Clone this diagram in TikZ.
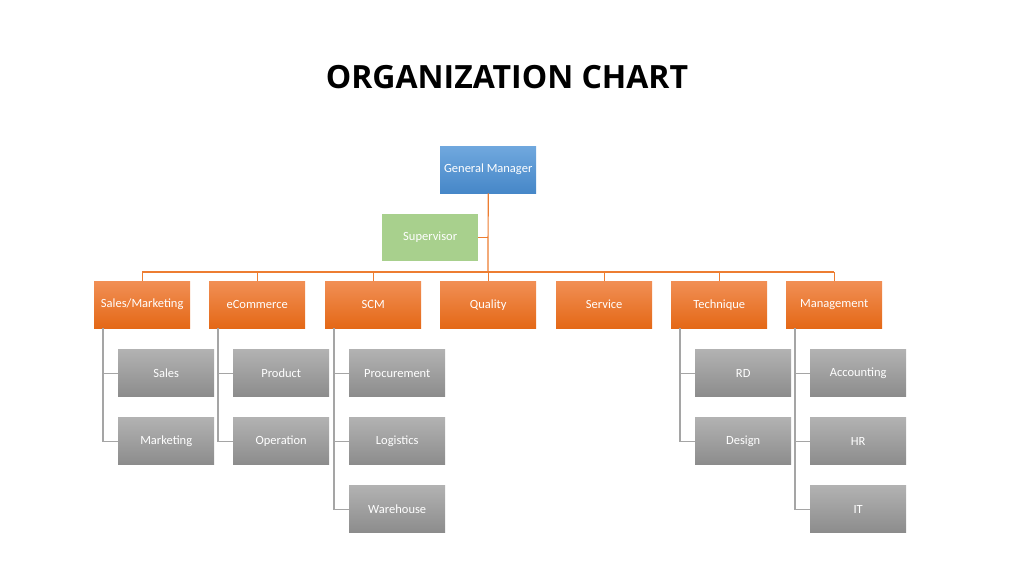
\documentclass[tikz,border=0pt]{standalone}
\usepackage{fontspec}
\setmainfont{Carlito}
\newfontfamily\titlefont{Open Sans}
\begin{document}
\begin{tikzpicture}[x=1pt,y=-1pt,
  box/.style={minimum width=96pt,minimum height=47pt,inner sep=0pt,anchor=north west,text=white,font=\fontsize{12.5}{14}\selectfont},
  orangebox/.style={box,top color={rgb,255:red,241;green,143;blue,85},bottom color={rgb,255:red,228;green,104;blue,22}},
  greenbox/.style={box,fill={rgb,255:red,168;green,208;blue,141}},
  greybox/.style={box,top color={rgb,255:red,178;green,178;blue,178},bottom color={rgb,255:red,140;green,140;blue,140}},
  oline/.style={draw={rgb,255:red,237;green,125;blue,49},line width=1.2pt},
  gline/.style={draw={rgb,255:red,165;green,165;blue,165},line width=1.2pt}]
\useasboundingbox (0,0) rectangle (1016,560);
\node[font=\titlefont\bfseries\fontsize{32}{36}\selectfont] (title) at (507,77) {ORGANIZATION CHART};
\node[box,top color={rgb,255:red,112;green,168;blue,222},bottom color={rgb,255:red,70;green,135;blue,200}] (gm) at (440,146) {General Manager};
\node[greenbox] (sup) at (382,214) {Supervisor};
\coordinate (bar) at (488,272);
\draw[oline] (gm.south) -- (bar);
\draw[oline] (sup.east) -- (sup.east -| gm.south);
\foreach \n/\t/\x in {sm/Sales\slash Marketing/94,ec/eCommerce/209,scm/SCM/325,q/Quality/440,sv/Service/556,te/Technique/671,mg/Management/786}{
  \node[orangebox] (\n) at (\x,281) {\t};
  \draw[oline] (\n.north) -- (\n.north |- bar);
}
\draw[oline] (sm.north |- bar) -- (mg.north |- bar);
\foreach \p/\names in {sm/{Sales,Marketing},ec/{Product,Operation},scm/{Procurement,Logistics,Warehouse},te/{RD,Design},mg/{Accounting,HR,IT}}{
  \foreach \c [count=\i] in \names {
    \node[greybox] (\p\i) at ([xshift=24pt,yshift=-68pt*\i+68pt-21pt]\p.south west) {\c};
    \draw[gline] ([xshift=9pt]\p.south west) |- (\p\i.west);
  }
}
\end{tikzpicture}
\end{document}
